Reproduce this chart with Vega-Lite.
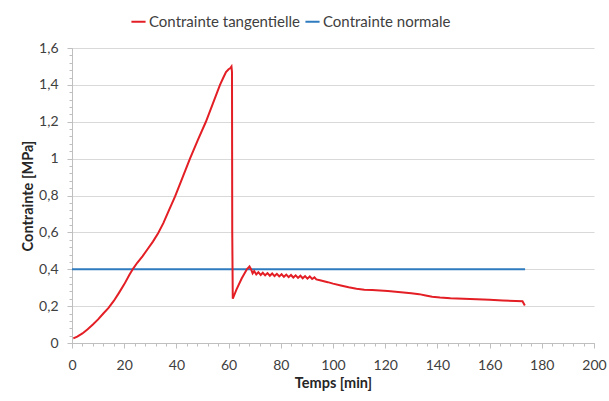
{
  "$schema": "https://vega.github.io/schema/vega-lite/v6.json",
  "autosize": "none",
  "width": 522,
  "height": 295,
  "padding": {"left": 72, "top": 48, "right": 15, "bottom": 58},
  "background": "white",
  "config": {
    "font": "Lato",
    "view": {"stroke": null},
    "axis": {
      "labelFont": "Lato", "titleFont": "Lato",
      "labelFontSize": 14, "titleFontSize": 14.5,
      "labelColor": "#404040", "titleColor": "#262626",
      "titleFontWeight": "bold", "labelFlush": false,
      "domainColor": "#bfbfbf", "tickColor": "#bfbfbf", "gridColor": "#d9d9d9"
    },
    "legend": {"labelFont": "Lato", "labelFontSize": 15, "labelColor": "#404040"}
  },
  "data": {"values": [
    {"serie": "Contrainte normale", "t": 0, "v": 0.4},
    {"serie": "Contrainte normale", "t": 173.6, "v": 0.4},
    {"serie": "Contrainte tangentielle", "t": 0.5, "v": 0.025},
    {"serie": "Contrainte tangentielle", "t": 2, "v": 0.035},
    {"serie": "Contrainte tangentielle", "t": 4, "v": 0.052},
    {"serie": "Contrainte tangentielle", "t": 6, "v": 0.075},
    {"serie": "Contrainte tangentielle", "t": 8, "v": 0.1},
    {"serie": "Contrainte tangentielle", "t": 10, "v": 0.128},
    {"serie": "Contrainte tangentielle", "t": 12, "v": 0.16},
    {"serie": "Contrainte tangentielle", "t": 14, "v": 0.19},
    {"serie": "Contrainte tangentielle", "t": 16, "v": 0.228},
    {"serie": "Contrainte tangentielle", "t": 18, "v": 0.272},
    {"serie": "Contrainte tangentielle", "t": 20, "v": 0.318},
    {"serie": "Contrainte tangentielle", "t": 22, "v": 0.37},
    {"serie": "Contrainte tangentielle", "t": 23.5, "v": 0.405},
    {"serie": "Contrainte tangentielle", "t": 25, "v": 0.435},
    {"serie": "Contrainte tangentielle", "t": 27, "v": 0.47},
    {"serie": "Contrainte tangentielle", "t": 29, "v": 0.51},
    {"serie": "Contrainte tangentielle", "t": 31, "v": 0.55},
    {"serie": "Contrainte tangentielle", "t": 33, "v": 0.595},
    {"serie": "Contrainte tangentielle", "t": 35, "v": 0.65},
    {"serie": "Contrainte tangentielle", "t": 37, "v": 0.715},
    {"serie": "Contrainte tangentielle", "t": 39.5, "v": 0.795},
    {"serie": "Contrainte tangentielle", "t": 42.3, "v": 0.895},
    {"serie": "Contrainte tangentielle", "t": 45.2, "v": 1.0},
    {"serie": "Contrainte tangentielle", "t": 48.2, "v": 1.1},
    {"serie": "Contrainte tangentielle", "t": 51.3, "v": 1.2},
    {"serie": "Contrainte tangentielle", "t": 54, "v": 1.3},
    {"serie": "Contrainte tangentielle", "t": 56.7, "v": 1.4},
    {"serie": "Contrainte tangentielle", "t": 58, "v": 1.44},
    {"serie": "Contrainte tangentielle", "t": 59, "v": 1.47},
    {"serie": "Contrainte tangentielle", "t": 60, "v": 1.485},
    {"serie": "Contrainte tangentielle", "t": 60.6, "v": 1.49},
    {"serie": "Contrainte tangentielle", "t": 61.1, "v": 1.5},
    {"serie": "Contrainte tangentielle", "t": 61.3, "v": 1.47},
    {"serie": "Contrainte tangentielle", "t": 61.4, "v": 0.6},
    {"serie": "Contrainte tangentielle", "t": 61.6, "v": 0.24},
    {"serie": "Contrainte tangentielle", "t": 63, "v": 0.29},
    {"serie": "Contrainte tangentielle", "t": 65, "v": 0.35},
    {"serie": "Contrainte tangentielle", "t": 67, "v": 0.4},
    {"serie": "Contrainte tangentielle", "t": 68, "v": 0.415},
    {"serie": "Contrainte tangentielle", "t": 68.6, "v": 0.4},
    {"serie": "Contrainte tangentielle", "t": 69.2, "v": 0.378},
    {"serie": "Contrainte tangentielle", "t": 69.8, "v": 0.39},
    {"serie": "Contrainte tangentielle", "t": 70.6, "v": 0.372},
    {"serie": "Contrainte tangentielle", "t": 71.4, "v": 0.384},
    {"serie": "Contrainte tangentielle", "t": 72.3, "v": 0.369},
    {"serie": "Contrainte tangentielle", "t": 73.1, "v": 0.381},
    {"serie": "Contrainte tangentielle", "t": 74, "v": 0.367},
    {"serie": "Contrainte tangentielle", "t": 74.9, "v": 0.379},
    {"serie": "Contrainte tangentielle", "t": 75.8, "v": 0.365},
    {"serie": "Contrainte tangentielle", "t": 76.7, "v": 0.377},
    {"serie": "Contrainte tangentielle", "t": 77.6, "v": 0.363},
    {"serie": "Contrainte tangentielle", "t": 78.5, "v": 0.375},
    {"serie": "Contrainte tangentielle", "t": 79.4, "v": 0.361},
    {"serie": "Contrainte tangentielle", "t": 80.3, "v": 0.373},
    {"serie": "Contrainte tangentielle", "t": 81.2, "v": 0.359},
    {"serie": "Contrainte tangentielle", "t": 82.1, "v": 0.371},
    {"serie": "Contrainte tangentielle", "t": 83, "v": 0.357},
    {"serie": "Contrainte tangentielle", "t": 83.9, "v": 0.369},
    {"serie": "Contrainte tangentielle", "t": 84.8, "v": 0.355},
    {"serie": "Contrainte tangentielle", "t": 85.7, "v": 0.367},
    {"serie": "Contrainte tangentielle", "t": 86.6, "v": 0.353},
    {"serie": "Contrainte tangentielle", "t": 87.5, "v": 0.365},
    {"serie": "Contrainte tangentielle", "t": 88.4, "v": 0.351},
    {"serie": "Contrainte tangentielle", "t": 89.3, "v": 0.363},
    {"serie": "Contrainte tangentielle", "t": 90.2, "v": 0.349},
    {"serie": "Contrainte tangentielle", "t": 91.1, "v": 0.361},
    {"serie": "Contrainte tangentielle", "t": 92, "v": 0.347},
    {"serie": "Contrainte tangentielle", "t": 92.9, "v": 0.356},
    {"serie": "Contrainte tangentielle", "t": 93.6, "v": 0.345},
    {"serie": "Contrainte tangentielle", "t": 95, "v": 0.34},
    {"serie": "Contrainte tangentielle", "t": 98, "v": 0.33},
    {"serie": "Contrainte tangentielle", "t": 100, "v": 0.322},
    {"serie": "Contrainte tangentielle", "t": 103, "v": 0.312},
    {"serie": "Contrainte tangentielle", "t": 106, "v": 0.302},
    {"serie": "Contrainte tangentielle", "t": 109, "v": 0.294},
    {"serie": "Contrainte tangentielle", "t": 112, "v": 0.289},
    {"serie": "Contrainte tangentielle", "t": 115, "v": 0.287},
    {"serie": "Contrainte tangentielle", "t": 118, "v": 0.285},
    {"serie": "Contrainte tangentielle", "t": 121, "v": 0.282},
    {"serie": "Contrainte tangentielle", "t": 124, "v": 0.278},
    {"serie": "Contrainte tangentielle", "t": 127, "v": 0.274},
    {"serie": "Contrainte tangentielle", "t": 130, "v": 0.27},
    {"serie": "Contrainte tangentielle", "t": 133, "v": 0.265},
    {"serie": "Contrainte tangentielle", "t": 135.5, "v": 0.258},
    {"serie": "Contrainte tangentielle", "t": 138, "v": 0.251},
    {"serie": "Contrainte tangentielle", "t": 141, "v": 0.247},
    {"serie": "Contrainte tangentielle", "t": 145, "v": 0.243},
    {"serie": "Contrainte tangentielle", "t": 150, "v": 0.24},
    {"serie": "Contrainte tangentielle", "t": 155, "v": 0.237},
    {"serie": "Contrainte tangentielle", "t": 160, "v": 0.234},
    {"serie": "Contrainte tangentielle", "t": 165, "v": 0.231},
    {"serie": "Contrainte tangentielle", "t": 170, "v": 0.228},
    {"serie": "Contrainte tangentielle", "t": 172.6, "v": 0.226},
    {"serie": "Contrainte tangentielle", "t": 173.5, "v": 0.203}
  ]},
  "layer": [
    {
      "mark": {"type": "line", "opacity": 0},
      "encoding": {
        "x": {"field": "t", "type": "quantitative", "scale": {"domain": [0, 200], "nice": false},
          "axis": {"orient": "bottom", "values": [0,4,8,12,16,20,24,28,32,36,40,44,48,52,56,60,64,68,72,76,80,84,88,92,96,100,104,108,112,116,120,124,128,132,136,140,144,148,152,156,160,164,168,172,176,180,184,188,192,196,200],
            "labels": false, "title": null, "grid": false, "domain": false, "tickSize": 3}},
        "y": {"field": "v", "type": "quantitative", "scale": {"domain": [0, 1.6], "nice": false},
          "axis": {"orient": "left", "values": [0,0.04,0.08,0.12,0.16,0.2,0.24,0.28,0.32,0.36,0.4,0.44,0.48,0.52,0.56,0.6,0.64,0.68,0.72,0.76,0.8,0.84,0.88,0.92,0.96,1,1.04,1.08,1.12,1.16,1.2,1.24,1.28,1.32,1.36,1.4,1.44,1.48,1.52,1.56,1.6],
            "labels": false, "title": null, "grid": false, "domain": false, "tickSize": 3}},
        "detail": {"field": "serie"}
      }
    },
    {
      "mark": {"type": "line", "strokeWidth": 2},
      "encoding": {
        "x": {"field": "t", "type": "quantitative", "scale": {"domain": [0, 200], "nice": false},
          "axis": {"orient": "bottom", "values": [0,20,40,60,80,100,120,140,160,180,200], "title": "Temps [min]", "grid": false, "tickSize": 5, "labelPadding": 10, "titlePadding": 4}},
        "y": {"field": "v", "type": "quantitative", "scale": {"domain": [0, 1.6], "nice": false},
          "axis": {"orient": "left", "values": [0,0.2,0.4,0.6,0.8,1,1.2,1.4,1.6], "title": "Contrainte [MPa]", "grid": true, "tickSize": 5, "labelPadding": 9, "titlePadding": 3,
            "labelExpr": "replace(toString(round(datum.value*10)/10), '.', ',')"}},
        "color": {"field": "serie", "type": "nominal",
          "scale": {"domain": ["Contrainte tangentielle", "Contrainte normale"], "range": ["#e31e24", "#2e7bbf"]},
          "legend": {"title": null, "orient": "none", "direction": "horizontal", "legendX": 58, "legendY": -35,
            "symbolType": "stroke", "symbolSize": 200, "symbolStrokeWidth": 2, "labelOffset": 2, "columnPadding": 0}}
      }
    }
  ],
  "resolve": {"axis": {"x": "independent", "y": "independent"}}
}
